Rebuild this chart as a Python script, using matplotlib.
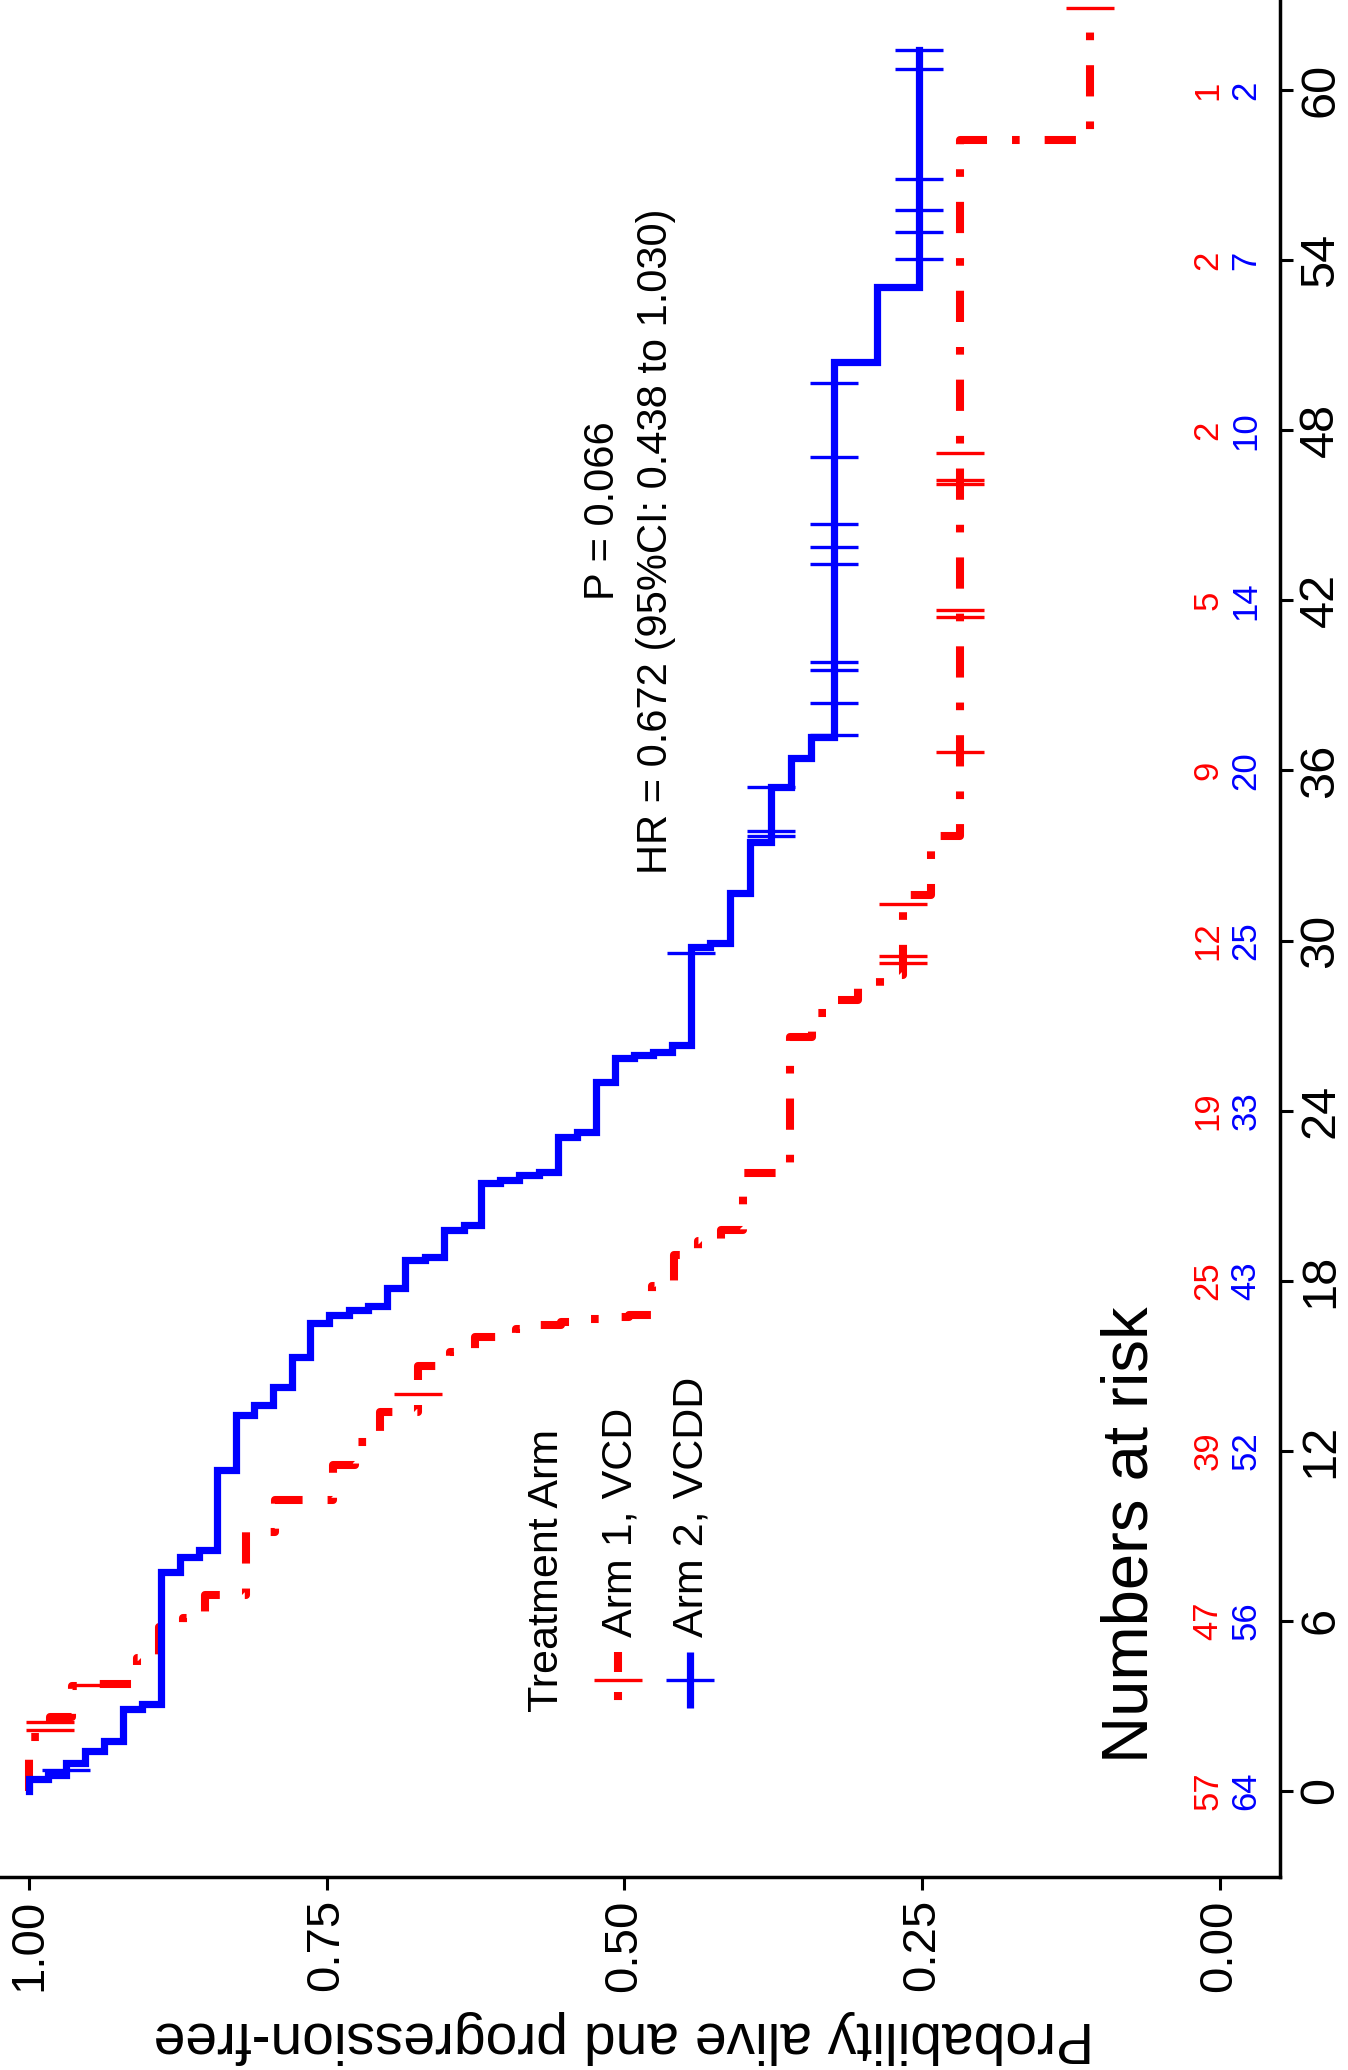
import numpy as np
import matplotlib
matplotlib.use("Agg")
import matplotlib.pyplot as plt

plt.rcParams['font.family'] = ['Liberation Sans', 'DejaVu Sans']
plt.rcParams['lines.scale_dashes'] = False

# ---------------- data ----------------
time_ticks = [0, 6, 12, 18, 24, 30, 36, 42, 48, 54, 60]
prob_ticks = [0.0, 0.25, 0.50, 0.75, 1.0]
prob_labels = ["0.00", "0.25", "0.50", "0.75", "1.00"]

risk_arm1 = [57, 47, 39, 25, 19, 12, 9, 5, 2, 2, 1]
risk_arm2 = [64, 56, 52, 43, 33, 25, 20, 14, 10, 7, 2]

# Arm 1, VCD (red)
arm1_event_t = [1.92, 2.60, 3.70, 3.76, 4.70, 5.79, 6.10, 6.91, 9.15, 10.26,
                11.50, 12.30, 13.37, 15.00, 15.50, 16.00, 16.30, 16.45, 16.55, 16.65,
                16.72, 16.80, 17.80, 18.90, 19.40, 19.80, 21.79, 26.60, 27.44, 27.90,
                28.40, 28.80, 31.60, 33.70, 58.24]
arm1_surv = [0.982, 0.964, 0.945, 0.909, 0.891, 0.871, 0.852, 0.818, 0.793, 0.745,
             0.726, 0.705, 0.673, 0.646, 0.625, 0.591, 0.572, 0.553, 0.534, 0.515,
             0.496, 0.477, 0.458, 0.438, 0.419, 0.400, 0.361, 0.342, 0.323, 0.304,
             0.285, 0.266, 0.242, 0.218, 0.109]
arm1_end = 62.88
arm1_cens_t = [2.15, 2.44, 3.74, 14.0, 29.2, 29.45, 31.29, 36.66, 41.40, 41.65,
               46.10, 46.25, 47.18, 62.88]

# Arm 2, VCDD (blue)
arm2_event_t = [0.42, 0.55, 1.00, 1.42, 1.77, 2.90, 3.07, 7.74, 8.27, 8.50,
                11.32, 13.26, 13.62, 14.26, 15.32, 16.50, 16.80, 16.97, 17.12, 17.73,
                18.73, 18.85, 19.79, 19.96, 21.44, 21.55, 21.73, 21.85, 23.08, 23.26,
                25.02, 25.85, 25.96, 26.08, 26.32, 29.78, 29.90, 31.66, 33.49, 35.43,
                36.43, 37.19, 50.42, 53.06]
arm2_surv = [0.984, 0.969, 0.953, 0.937, 0.921, 0.905, 0.889, 0.873, 0.857, 0.842,
             0.826, 0.811, 0.795, 0.779, 0.764, 0.748, 0.731, 0.715, 0.699, 0.684,
             0.667, 0.651, 0.635, 0.620, 0.604, 0.588, 0.572, 0.556, 0.540, 0.524,
             0.508, 0.492, 0.476, 0.460, 0.444, 0.428, 0.411, 0.394, 0.377, 0.360,
             0.343, 0.324, 0.288, 0.252]
arm2_end = 61.41
arm2_cens_t = [0.74, 29.55, 33.70, 33.85, 35.40, 37.25, 38.39, 39.54, 39.84, 43.28,
               43.87, 44.70, 47.05, 49.65, 54.03, 54.98, 55.77, 56.85, 60.73, 61.41]

RED = "#FF0000"
BLUE = "#0000FF"

# --------------- layout helpers (pixel -> data) ---------------
W, H = 1348, 2070
def P_AT(x):
    return 1 - (x - 29) / 1190.5
def T_AT(y):
    return (1791 - y) / 28.35

fig = plt.figure(figsize=(W / 100, H / 100), dpi=100)
ax = fig.add_axes([-5 / W, 193 / H, 1285 / W, 1881 / H])
ax.set_xlim(P_AT(-5), P_AT(1280))
ax.set_ylim(T_AT(1877), T_AT(-4))


def km_path(times, surv, t_end):
    t = np.concatenate([[0.0], times, [t_end]])
    s = np.concatenate([[1.0], surv])
    xs = np.repeat(s, 2)
    ys = np.empty(len(xs))
    ys[0::2] = t[:-1]
    ys[1::2] = t[1:]
    return xs, ys


def cens_levels(times, surv, cens):
    s = np.concatenate([[1.0], surv])
    idx = np.searchsorted(np.asarray(times), np.asarray(cens), side='right')
    return s[idx]


red_style = (0, (22.5, 18.0, 5.5, 18.0))

x1, y1 = km_path(arm1_event_t, arm1_surv, arm1_end)
ax.plot(x1, y1, color=RED, lw=5.8, linestyle=red_style, solid_capstyle='butt',
        dash_capstyle='butt', zorder=3)
ax.plot(cens_levels(arm1_event_t, arm1_surv, arm1_cens_t), arm1_cens_t,
        linestyle='none', marker='_', markersize=35, markeredgewidth=2.4,
        color=RED, zorder=4)

x2, y2 = km_path(arm2_event_t, arm2_surv, arm2_end)
ax.plot(x2, y2, color=BLUE, lw=5.2, solid_joinstyle='miter', zorder=5)
ax.plot(cens_levels(arm2_event_t, arm2_surv, arm2_cens_t), arm2_cens_t,
        linestyle='none', marker='_', markersize=35, markeredgewidth=2.4,
        color=BLUE, zorder=6)

# --------------- axes styling ---------------
for side in ['top', 'left']:
    ax.spines[side].set_visible(False)
for side in ['right', 'bottom']:
    ax.spines[side].set_linewidth(2.5)

ax.set_xticks(prob_ticks)
ax.set_xticklabels(prob_labels, rotation=90, fontsize=34)
ax.tick_params(axis='x', direction='out', length=9, width=2.2, pad=7)

ax.yaxis.tick_right()
ax.set_yticks(time_ticks)
ax.set_yticklabels([str(t) for t in time_ticks], rotation=90, fontsize=35)
ax.tick_params(axis='y', direction='out', length=9, width=2.2, pad=4)
for lab in ax.get_yticklabels():
    lab.set_va('center')

fig.text(624 / W, 1 - 2037 / H, "Probability alive and progression-free",
         rotation=180, fontsize=41, ha='center', va='center')

# --------------- numbers at risk ---------------
ax.text(P_AT(1131), T_AT(1535), "Numbers at risk", rotation=90, fontsize=47,
        ha='center', va='center')
for t, n1, n2 in zip(time_ticks, risk_arm1, risk_arm2):
    ax.text(P_AT(1208), t, str(n1), color=RED, rotation=90, fontsize=25,
            ha='center', va='center')
    ax.text(P_AT(1246), t, str(n2), color=BLUE, rotation=90, fontsize=25,
            ha='center', va='center')

# --------------- annotation ---------------
ax.text(P_AT(603), T_AT(511), "P = 0.066", rotation=90, fontsize=30,
        ha='center', va='center')
ax.text(P_AT(656), T_AT(541), "HR = 0.672 (95%CI: 0.438 to 1.030)", rotation=90,
        fontsize=30, ha='center', va='center')

# --------------- legend (drawn manually, rotated) ---------------
ax.text(P_AT(547), T_AT(1712), "Treatment Arm", rotation=90, fontsize=31,
        ha='center', va='bottom')
ax.text(P_AT(621), T_AT(1637), "Arm 1, VCD", rotation=90, fontsize=31,
        ha='center', va='bottom')
ax.text(P_AT(691), T_AT(1637), "Arm 2, VCDD", rotation=90, fontsize=31,
        ha='center', va='bottom')

ax.plot([P_AT(618), P_AT(618)], [T_AT(1652), T_AT(1708)], color=RED, lw=5.8,
        linestyle=(0, (14.4, 14.4, 5.8, 20)), dash_capstyle='butt')
ax.plot([P_AT(618)], [T_AT(1680)], marker='_', markersize=35,
        markeredgewidth=2.4, color=RED)
ax.plot([P_AT(690), P_AT(690)], [T_AT(1652), T_AT(1708)], color=BLUE, lw=5.2,
        solid_capstyle='butt')
ax.plot([P_AT(690)], [T_AT(1680)], marker='_', markersize=35,
        markeredgewidth=2.4, color=BLUE)

fig.savefig("out.png", dpi=100)
